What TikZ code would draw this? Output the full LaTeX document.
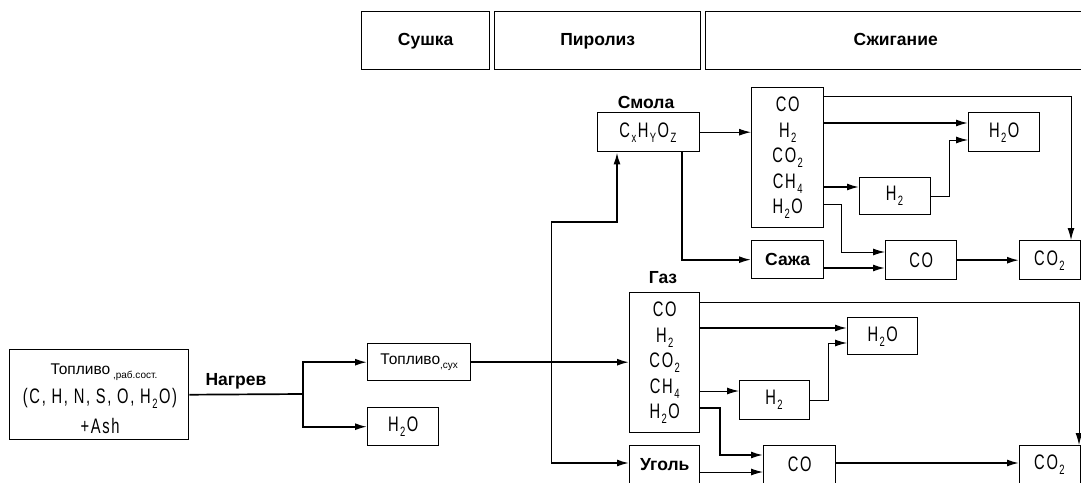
\documentclass[tikz,border=0pt]{standalone}
\usepackage{fontspec}
\setmainfont{Liberation Sans}
\newfontfamily\iso[FakeStretch=0.7,LetterSpace=8]{Liberation Sans}
\usetikzlibrary{arrows.meta}
\newcommand\chsub[1]{\hspace{1.5pt}\raisebox{-0.45ex}{\fontsize{13.5}{13.5}\selectfont #1}\hspace{1.5pt}}
\begin{document}
\begin{tikzpicture}[x=1pt,y=-1pt,
 box/.style={draw, line width=1.4pt, inner sep=0pt, anchor=north west, align=center},
 hdr/.style={box, font=\fontsize{17.5}{20}\selectfont\bfseries, text height=13pt, text depth=4pt},
 lbl/.style={font=\fontsize{17.5}{20}\selectfont\bfseries, inner sep=0pt},
 chem/.style={font=\iso\fontsize{21}{25.5}\selectfont},
 txt/.style={font=\fontsize{15.5}{17}\selectfont, inner sep=0pt},
 conn/.style={line width=1.7pt, -{Latex[length=12pt,width=7pt]}},
 connt/.style={line width=1pt, -{Latex[length=12pt,width=7pt]}},
 ln/.style={line width=1.7pt},
 lnt/.style={line width=1pt}]
\useasboundingbox (0,0) rectangle (1081,482);
\clip (0,0) rectangle (1081,482);

% header
\node[hdr, minimum width=128pt, minimum height=58pt] (dry) at (361,11) {Сушка};
\node[hdr, minimum width=206pt, minimum height=58pt] (pyr) at (494,11) {Пиролиз};
\node[hdr, minimum width=380pt, minimum height=58pt] (comb) at (705,11) {Сжигание};

% fuel
\node[box, minimum width=179pt, minimum height=90pt] (fuel) at (9,349) {};
\node[txt] (fuelA) at (104,372) {Топливо\raisebox{-0.5ex}{\fontsize{10}{10}\selectfont\ ,раб.сост.}};
\node[chem, inner sep=0pt] (fuelB) at (100,398) {(C, H, N, S, O, H\chsub{2}O)};
\node[chem, inner sep=0pt] (fuelC) at (100,426) {+Ash};
\node[lbl] (heat) at (236,381) {Нагрев};
\coordinate (j1) at (303,394);
\draw[ln] (fuel.east) -- (j1);

\node[box, txt, minimum width=103pt, minimum height=37pt] (tdry) at (367,343) {Топливо\raisebox{-0.5ex}{\fontsize{10}{10}\selectfont ,сух}};
\node[box, chem, minimum width=71pt, minimum height=38pt] (h2o1) at (367,407) {H\chsub{2}O};
\draw[conn] (j1) |- (tdry.west);
\draw[conn] (j1) |- (h2o1.west);

% pyrolysis products
\node[box, chem, minimum width=102pt, minimum height=39pt] (resin) at (597,112) {C\chsub{x}H\chsub{Y}O\chsub{Z}};
\node[lbl] (resinL) at (646,102) {Смола};
\node[box, chem, minimum width=70pt, minimum height=140pt] (gasL) at (629,292) {CO\\H\chsub{2}\\CO\chsub{2}\\CH\chsub{4}\\H\chsub{2}O};
\node[lbl] (gasLL) at (663,278) {Газ};
\node[box, lbl, minimum width=70pt, minimum height=38pt] (coal) at (629,445) {Уголь};

\draw[conn] (tdry.east) -- (gasL.west |- tdry.east);
\coordinate (sT) at (551,222);
\coordinate (sB) at (551,463);
\draw[lnt] (sT) -- (sB);
\draw[conn] (sT) -| (617,0 |- resin.south);
\draw[conn] (sB) -- (coal.west |- sB);

% upper combustion branch
\node[box, chem, minimum width=72pt, minimum height=140pt] (gasU) at (751,87) {CO\\H\chsub{2}\\CO\chsub{2}\\CH\chsub{4}\\H\chsub{2}O};
\node[box, lbl, minimum width=72pt, minimum height=38pt] (soot) at (751,240) {Сажа};
\node[box, chem, minimum width=71pt, minimum height=39pt] (h2oU) at (968,112) {H\chsub{2}O};
\node[box, chem, minimum width=71pt, minimum height=37pt] (h2U) at (859,177) {H\chsub{2}};
\node[box, chem, minimum width=71pt, minimum height=39pt] (coU) at (885,240) {CO};
\node[box, chem, minimum width=61pt, minimum height=39pt] (co2U) at (1019,240) {CO\chsub{2}};

\draw[connt] (resin.east) -- (gasU.west |- resin.east);
\draw[conn] (682,0 |- resin.south) |- (soot.west);
\draw[connt] (gasU.east |- 0,96) -| (1071,0 |- co2U.north);
\draw[conn] (gasU.east |- 0,123) -- (h2oU.west |- 0,123);
\draw[conn] (gasU.east |- 0,187) -- (h2U.west |- 0,187);
\draw[connt] (h2U.east) -- (949,0 |- h2U.east) -- (949,140) -- (h2oU.west |- 0,140);
\draw[connt] (gasU.east |- 0,204) -- (841,204) -- (841,252) -- (coU.west |- 0,252);
\draw[conn] (soot.east |- 0,268) -- (coU.west |- 0,268);
\draw[conn] (coU.east) -- (co2U.west |- coU.east);

% lower combustion branch
\node[box, chem, minimum width=70pt, minimum height=37pt] (h2oL) at (847,317) {H\chsub{2}O};
\node[box, chem, minimum width=70pt, minimum height=39pt] (h2L) at (739,380) {H\chsub{2}};
\node[box, chem, minimum width=72pt, minimum height=38pt] (coL) at (763,445) {CO};
\node[box, chem, minimum width=61pt, minimum height=38pt] (co2L) at (1019,445) {CO\chsub{2}};

\draw[connt] (gasL.east |- 0,302) -| (1079,0 |- co2L.north);
\draw[conn] (gasL.east |- 0,328) -- (h2oL.west |- 0,328);
\draw[connt] (gasL.east |- 0,391) -- (h2L.west |- 0,391);
\draw[connt] (h2L.east) -- (828,0 |- h2L.east) -- (828,343) -- (h2oL.west |- 0,343);
\draw[conn] (gasL.east |- 0,408) -- (720,408) -- (720,455) -- (coL.west |- 0,455);
\draw[connt] (coal.east |- 0,472) -- (coL.west |- 0,472);
\draw[conn] (coL.east |- 0,463) -- (co2L.west |- 0,463);
\end{tikzpicture}
\end{document}
